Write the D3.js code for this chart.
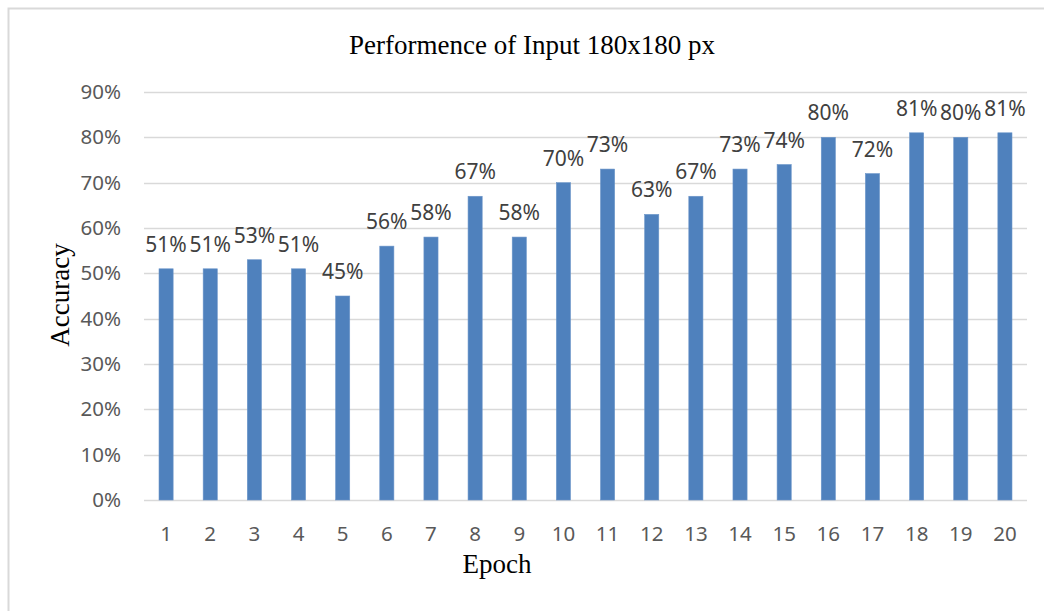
<!DOCTYPE html>
<html>
<head>
<meta charset="utf-8">
<script src="https://cdn.jsdelivr.net/npm/d3@7"></script>
<style>
  html, body { margin: 0; padding: 0; background: #fff; }
  svg { display: block; }
</style>
</head>
<body>
<svg id="chart" width="1044" height="611"></svg>
<script>
// Accuracy per training epoch
const epochs = ["1","2","3","4","5","6","7","8","9","10","11","12","13","14","15","16","17","18","19","20"];
const accuracy = [0.51,0.51,0.53,0.51,0.45,0.56,0.58,0.67,0.58,0.70,0.73,0.63,0.67,0.73,0.74,0.80,0.72,0.81,0.80,0.81];
const yTicks = [0,0.1,0.2,0.3,0.4,0.5,0.6,0.7,0.8,0.9];

const titleText = "Performence of Input 180x180 px";
const xTitle = "Epoch";
const yTitle = "Accuracy";

const svg = d3.select("#chart");
const W = 1044, H = 611;
const plot = { left: 144, right: 1027, top: 92, bottom: 500 };

// outer frame
svg.append("rect")
  .attr("x", 8.5).attr("y", 8.5)
  .attr("width", W + 10).attr("height", H + 10)
  .attr("fill", "#fff")
  .attr("stroke", "#d9d9d9").attr("stroke-width", 2);

const x = d3.scaleBand().domain(epochs).range([plot.left, plot.right]).paddingInner(0.68).paddingOuter(0.34);
const y = d3.scaleLinear().domain([0, 0.9]).range([plot.bottom, plot.top]);

// gridlines
svg.append("g").selectAll("line").data(yTicks).join("line")
  .attr("x1", plot.left).attr("x2", plot.right)
  .attr("y1", d => Math.round(y(d)) + 0.5).attr("y2", d => Math.round(y(d)) + 0.5)
  .attr("stroke", "#d9d9d9").attr("stroke-width", 1.5);

// y axis labels
const yAxis = d3.axisLeft(y).tickValues(yTicks).tickFormat(d3.format(".0%")).tickSize(0).tickPadding(23);
const gy = svg.append("g").attr("transform", `translate(${plot.left},0)`).call(yAxis);
gy.select(".domain").remove();
gy.selectAll("text")
  .attr("font-family", "'Noto Sans', sans-serif").attr("font-size", 20.5)
  .attr("fill", "#595959");

// x axis labels
const xAxis = d3.axisBottom(x).tickSize(0).tickPadding(26);
const gx = svg.append("g").attr("transform", `translate(0,${plot.bottom})`).call(xAxis);
gx.select(".domain").remove();
gx.selectAll("text")
  .attr("font-family", "'Noto Sans', sans-serif").attr("font-size", 20.5)
  .attr("fill", "#595959");

// bars
svg.append("g").selectAll("rect").data(accuracy).join("rect")
  .attr("x", (d, i) => x(epochs[i]))
  .attr("y", d => y(d))
  .attr("width", x.bandwidth())
  .attr("height", d => plot.bottom - y(d))
  .attr("fill", "#4f81bd")
  .attr("stroke", "#6b95c9").attr("stroke-width", 0.6);

// value labels
svg.append("g").selectAll("text").data(accuracy).join("text")
  .attr("x", (d, i) => x(epochs[i]) + x.bandwidth() / 2)
  .attr("y", d => y(d) - 17)
  .attr("text-anchor", "middle")
  .attr("font-family", "'Noto Sans', sans-serif").attr("font-size", 21)
  .attr("fill", "#404040")
  .text(d => d3.format(".0%")(d));

// titles
svg.append("text")
  .attr("x", 532).attr("y", 54)
  .attr("text-anchor", "middle")
  .attr("font-family", "'Liberation Serif', 'Times New Roman', serif").attr("font-size", 27)
  .attr("fill", "#000")
  .text(titleText);

svg.append("text")
  .attr("x", 497).attr("y", 573)
  .attr("text-anchor", "middle")
  .attr("font-family", "'Liberation Serif', 'Times New Roman', serif").attr("font-size", 27)
  .attr("fill", "#000")
  .text(xTitle);

svg.append("text")
  .attr("transform", "translate(69,295) rotate(-90)")
  .attr("text-anchor", "middle")
  .attr("font-family", "'Liberation Serif', 'Times New Roman', serif").attr("font-size", 27)
  .attr("fill", "#000")
  .text(yTitle);
</script>
</body>
</html>
